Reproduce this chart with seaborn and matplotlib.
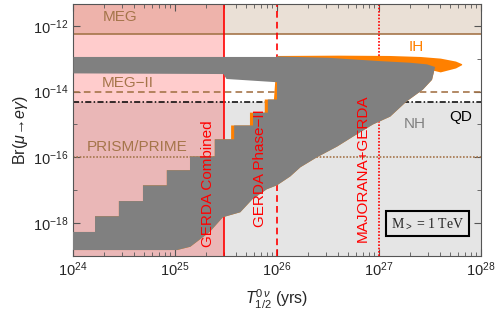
import numpy as np
import matplotlib
matplotlib.use("Agg")
import matplotlib.pyplot as plt
import seaborn as sns

# exponents: log10(T_1/2 / yrs) and log10(Br)
step_edges = [24.0, 24.216, 24.45, 24.686, 24.92, 25.147, 25.39, 25.58, 25.765, 25.91, 26.0]
orange_edges = [24.0, 24.216, 24.45, 24.686, 24.92, 25.147, 25.39, 25.55, 25.735, 25.88, 25.97]
step_tops = [-18.27, -17.79, -17.33, -16.85, -16.39, -15.97, -15.45, -15.03, -14.64, -14.24]
top_x = [26.0, 26.5, 27.0, 27.3, 27.47]
top_y = [-12.93, -12.97, -13.07, -13.12, -13.17]
low_x = [27.55, 27.52, 27.43, 27.27, 27.11, 26.94, 26.75, 26.59, 26.39, 26.23, 26.13,
         26.0, 25.9, 25.76, 25.64, 25.47, 25.34, 25.15, 25.02, 24.0]
low_y = [-13.25, -13.64, -13.94, -14.3, -14.76, -15.0, -15.36, -15.67, -16.0, -16.3, -16.58,
         -16.85, -16.97, -17.27, -17.67, -17.82, -18.27, -18.72, -18.82, -18.82]
band_x = [24.0, 25.47, 25.5, 26.0]
band_top = [-12.93, -12.93, -12.93, -12.93]
band_bot = [-13.43, -13.45, -13.6, -13.7]
ih_x = [26.0, 26.6, 27.1, 27.4, 27.6, 27.75, 27.81]
ih_top = [-12.9, -12.89, -12.9, -12.93, -12.98, -13.07, -13.15]
ih_bot = [-13.1, -13.1, -13.15, -13.25, -13.4, -13.28, -13.18]

MEG, MEG2, PRISM, QD = 5.7e-13, 1e-14, 1e-16, 4.9e-15
GERDA_C, GERDA_2, MAJ = 3e25, 1e26, 1e27
XLIM, YLIM = (1e24, 1e28), (1e-19, 4.6e-12)
y_major = [1e-18, 1e-16, 1e-14, 1e-12]
y_minor = [1e-19, 1e-17, 1e-15, 1e-13]

BROWN = "#A5754A"
ORANGE = "#FF8000"
GRAY = "#808080"

sns.set_style("ticks")
plt.rcParams["font.family"] = ["Liberation Sans", "DejaVu Sans"]
plt.rcParams["mathtext.fontset"] = "custom"
plt.rcParams["mathtext.rm"] = "Liberation Sans"
plt.rcParams["mathtext.it"] = "Liberation Sans:italic"


def stair(edges, tops):
    xs, ys = [], []
    for i, t in enumerate(tops):
        xs += [edges[i], edges[i + 1]]
        ys += [t, t]
    return xs, ys


fig, ax = plt.subplots(figsize=(5, 3.16), dpi=100)
fig.subplots_adjust(left=0.146, right=0.962, top=0.987, bottom=0.19)
ax.set_xscale("log")
ax.set_yscale("log")
ax.set_xlim(*XLIM)
ax.set_ylim(*YLIM)

# excluded / sensitivity regions
ax.axhspan(YLIM[0], QD, color="#E5E5E5", lw=0, zorder=0)
ax.axhspan(MEG, YLIM[1], color="#EAE0D6", lw=0, zorder=0)
ax.axvspan(XLIM[0], GERDA_C, color="red", alpha=0.2, lw=0, zorder=0.5)

ax.axhline(MEG, color=BROWN, lw=1.2, zorder=1)
ax.axhline(MEG2, color=BROWN, lw=1.2, ls=(0, (4, 2.5)), zorder=1)
ax.axhline(PRISM, color=BROWN, lw=1.2, ls=(0, (1, 1)), zorder=1)
ax.axhline(QD, color="black", lw=1.1, ls=(0, (4, 1.5, 1, 1.5)), zorder=1)
ax.axvline(GERDA_C, color="red", lw=1.2, zorder=1)
ax.axvline(GERDA_2, color="red", lw=1.2, ls=(0, (4, 2.5)), zorder=1)
ax.axvline(MAJ, color="red", lw=1.2, ls=(0, (1, 1)), zorder=1)

# scan points: IH (orange) under NH (gray)
ax.fill_between(10.0 ** np.array(ih_x), 10.0 ** np.array(ih_bot), 10.0 ** np.array(ih_top),
                color=ORANGE, lw=0, zorder=2)
ox, oy = stair(orange_edges, step_tops)
ax.fill(10.0 ** np.array(ox + top_x + low_x), 10.0 ** np.array(oy + top_y + low_y),
        color=ORANGE, lw=0, zorder=2)
gx, gy = stair(step_edges, step_tops)
ax.fill(10.0 ** np.array(gx + top_x + low_x), 10.0 ** np.array(gy + top_y + low_y),
        color=GRAY, lw=0, zorder=3)
ax.fill_between(10.0 ** np.array(band_x), 10.0 ** np.array(band_bot), 10.0 ** np.array(band_top),
                color=GRAY, lw=0, zorder=3)

# labels
fs = 11
ax.text(10 ** 24.46, 10 ** -11.73, "MEG", color=BROWN, fontsize=fs, ha="center", va="center", zorder=4)
ax.text(10 ** 24.54, 10 ** -13.73, "MEG\u2212II", color=BROWN, fontsize=fs, ha="center", va="center", zorder=4)
ax.text(10 ** 24.63, 10 ** -15.7, "PRISM/PRIME", color=BROWN, fontsize=fs, ha="center", va="center", zorder=4)
ax.text(10 ** 27.37, 10 ** -12.64, "IH", color=ORANGE, fontsize=fs, ha="center", va="center", zorder=4)
ax.text(10 ** 27.35, 10 ** -15.0, "NH", color=GRAY, fontsize=fs, ha="center", va="center", zorder=4)
ax.text(10 ** 27.8, 10 ** -14.76, "QD", color="black", fontsize=fs, ha="center", va="center", zorder=4)
ax.text(10 ** 25.32, 10 ** -18.73, "GERDA Combined", color="red", fontsize=fs, rotation=90,
        ha="center", va="bottom", zorder=4)
ax.text(10 ** 25.83, 10 ** -18.12, "GERDA Phase\u2212II", color="red", fontsize=fs, rotation=90,
        ha="center", va="bottom", zorder=4)
ax.text(10 ** 26.84, 10 ** -18.58, "MAJORANA+GERDA", color="red", fontsize=fs, rotation=90,
        ha="center", va="bottom", zorder=4)
ax.text(0.869, 0.129, r"M$_{>}$ = 1 TeV", transform=ax.transAxes, fontsize=10,
        family=["Liberation Serif", "DejaVu Serif"], ha="center", va="center", zorder=5,
        bbox=dict(boxstyle="square,pad=0.35", fc="none", ec="black", lw=1.5))

ax.set_yticks(y_major)
ax.set_yticks(y_minor, minor=True)
ax.xaxis.set_major_locator(matplotlib.ticker.LogLocator(base=10, numticks=10))
ax.xaxis.set_minor_locator(matplotlib.ticker.LogLocator(base=10, subs=np.arange(2, 10), numticks=20))
ax.xaxis.set_minor_formatter(matplotlib.ticker.NullFormatter())
ax.yaxis.set_minor_formatter(matplotlib.ticker.NullFormatter())
ax.tick_params(which="both", direction="in", top=True, right=True, color="#555555", labelsize=10.5)
ax.tick_params(which="major", length=5, width=0.8)
ax.tick_params(which="minor", length=3, width=0.6)
for s in ax.spines.values():
    s.set_color("#555555")
    s.set_linewidth(0.8)

ax.set_xlabel(r"$T^{0\,\nu}_{1/2}$ (yrs)", fontsize=11.5, labelpad=6)
ax.set_ylabel(r"Br($\mu\!\rightarrow\! e\gamma$)", fontsize=11.5, labelpad=2)

fig.savefig("out.png", dpi=100)
